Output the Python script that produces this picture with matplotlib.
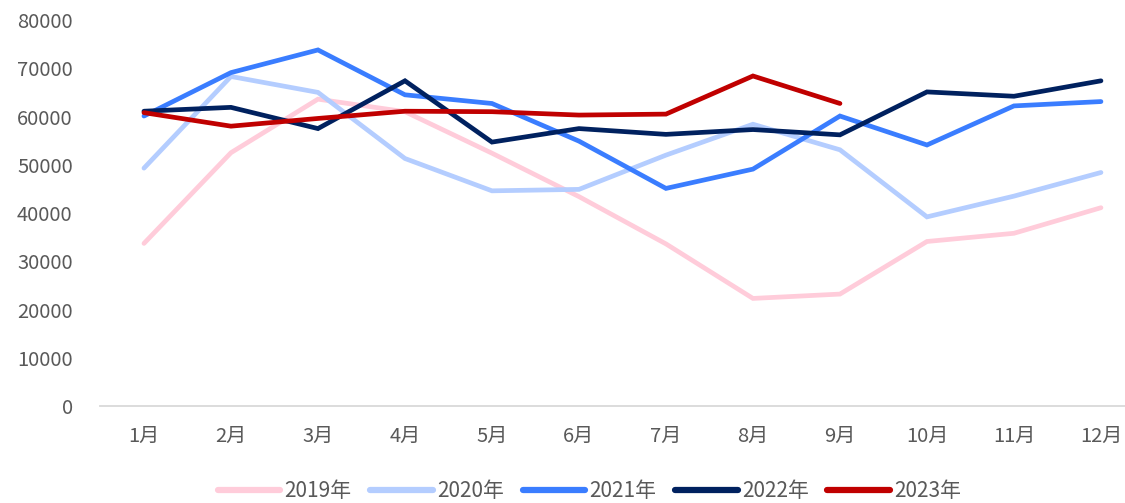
import matplotlib.pyplot as plt
import numpy as np

plt.rcParams["font.family"] = ["Noto Sans CJK SC", "DejaVu Sans"]

months = ["1月", "2月", "3月", "4月", "5月", "6月",
          "7月", "8月", "9月", "10月", "11月", "12月"]

y2019 = [33700, 52500, 63600, 61000, 52400, 43400,
         33600, 22300, 23200, 34100, 35800, 41100]
y2020 = [49300, 68300, 65000, 51300, 44600, 44900,
         52000, 58400, 53100, 39200, 43500, 48400]
y2021 = [60100, 69100, 73800, 64500, 62700, 54900,
         45100, 49100, 60100, 54100, 62200, 63100]
y2022 = [61100, 61900, 57500, 67400, 54700, 57500,
         56300, 57300, 56200, 65100, 64200, 67400]
y2023 = [60800, 58000, 59600, 61100, 61000, 60300,
         60500, 68400, 62700]

series = [
    ("2019年", y2019, "#FFCCDA"),
    ("2020年", y2020, "#B4CDFF"),
    ("2021年", y2021, "#3A7DFF"),
    ("2022年", y2022, "#00215F"),
    ("2023年", y2023, "#C00000"),
]

fig = plt.figure(figsize=(11.25, 5.03), dpi=100)
# axes deliberately runs past the right edge, like the source chart
ax = fig.add_axes([0.0893, 0.1928, 0.928, 0.7674])

x = np.arange(1, 13)
for label, vals, color in series:
    ax.plot(x[:len(vals)], vals, color=color, lw=3.4, label=label,
            solid_capstyle="round", solid_joinstyle="miter")

ax.set_xlim(0.5, 12.5)
ax.set_ylim(0, 80000)
ax.set_yticks(np.arange(0, 80001, 10000))
ax.set_xticks(x)
ax.set_xticklabels(months)

for s in ["top", "right", "left"]:
    ax.spines[s].set_visible(False)
ax.spines["bottom"].set_color("#D9D9D9")
ax.spines["bottom"].set_linewidth(1.3)
ax.tick_params(axis="both", length=0, colors="#595959", labelsize=14.5)
ax.tick_params(axis="y", pad=20)
ax.tick_params(axis="x", pad=14)

handles, labels = ax.get_legend_handles_labels()
leg = fig.legend(handles, labels, loc="lower center", ncol=5, frameon=False,
                 bbox_to_anchor=(0.524, -0.035), fontsize=15, handlelength=3.0,
                 columnspacing=0.9, handletextpad=0.2)
for t in leg.get_texts():
    t.set_color("#595959")
for h in leg.get_lines():
    h.set_linewidth(4.5)

fig.savefig("out.png", dpi=100)
